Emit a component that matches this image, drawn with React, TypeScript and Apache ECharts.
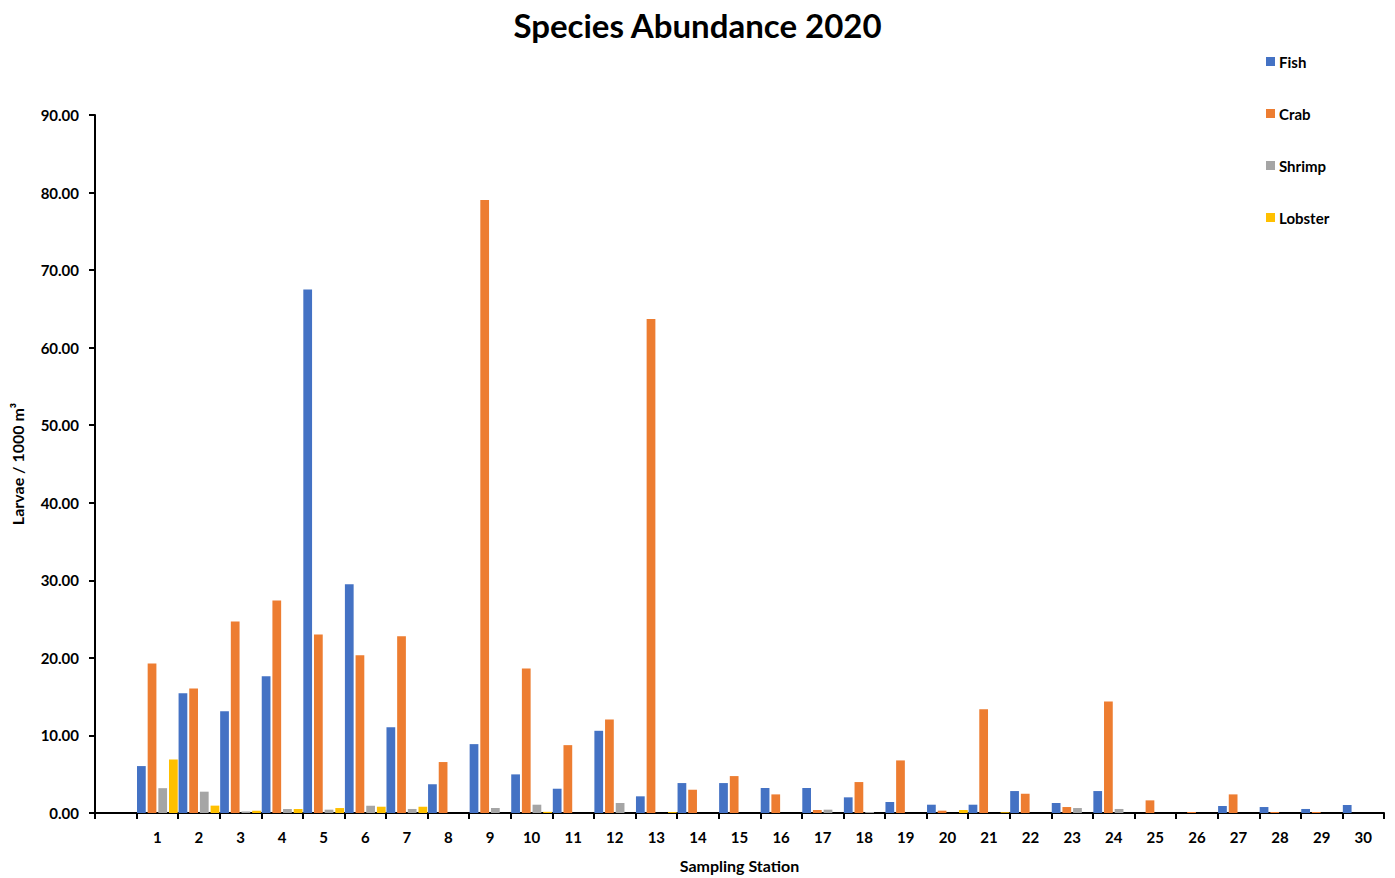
import React, { useEffect, useRef } from "react";
import * as echarts from "echarts";

const stations = ["", "1", "2", "3", "4", "5", "6", "7", "8", "9", "10", "11", "12", "13", "14", "15", "16", "17", "18", "19", "20", "21", "22", "23", "24", "25", "26", "27", "28", "29", "30"];

const fish = [null, 6.05, 15.45, 13.13, 17.64, 67.5, 29.5, 11.07, 3.72, 8.88, 4.98, 3.13, 10.6, 2.15, 3.86, 3.86, 3.22, 3.22, 2.02, 1.42, 1.07, 1.07, 2.83, 1.29, 2.83, 0, 0, 0.9, 0.77, 0.52, 1.03];
const crab = [null, 19.27, 16.05, 24.7, 27.4, 23.0, 20.34, 22.8, 6.57, 79.05, 18.63, 8.75, 12.06, 63.7, 3.0, 4.76, 2.4, 0.39, 3.99, 6.78, 0.3, 13.39, 2.49, 0.77, 14.38, 1.63, 0.13, 2.4, 0.13, 0.13, 0];
const shrimp = [null, 3.2, 2.75, 0.2, 0.52, 0.43, 0.94, 0.52, 0, 0.64, 1.07, 0, 1.29, 0, 0, 0, 0, 0.43, 0.13, 0, 0, 0, 0, 0.64, 0.52, 0, 0, 0, 0, 0, 0];
const lobster = [null, 6.9, 0.95, 0.3, 0.52, 0.64, 0.81, 0.81, 0, 0, 0.15, 0, 0, 0.12, 0, 0, 0, 0, 0, 0, 0.39, 0.1, 0, 0, 0, 0, 0, 0, 0, 0, 0];

const seriesNames = ["Fish", "Crab", "Shrimp", "Lobster"];
const seriesData = [fish, crab, shrimp, lobster];
const colors = ["#4472C4", "#ED7D31", "#A5A5A5", "#FFC000"];

const FONT = "Lato, 'Open Sans', sans-serif";

export default function App() {
  const ref = useRef<HTMLDivElement>(null);
  useEffect(() => {
    if (!ref.current) return;
    const chart = echarts.init(ref.current, undefined, { renderer: "svg" });
    chart.setOption({
      animation: false,
      backgroundColor: "#ffffff",
      title: {
        text: "Species Abundance 2020",
        left: "center",
        top: 3,
        textStyle: { fontFamily: FONT, fontWeight: "bold", fontSize: 33, color: "#000" },
      },
      legend: {
        orient: "vertical",
        left: 1261,
        top: 49,
        itemWidth: 9,
        itemHeight: 9,
        itemGap: 37,
        icon: "rect",
        textStyle: { fontFamily: FONT, fontWeight: "bold", fontSize: 15, color: "#000", padding: [0, 0, 0, -1] },
        data: seriesNames,
      },
      grid: { left: 95, right: 11, top: 115, bottom: 64, containLabel: false },
      xAxis: {
        type: "category",
        data: stations,
        name: "Sampling Station",
        nameLocation: "middle",
        nameGap: 44,
        nameTextStyle: { fontFamily: FONT, fontWeight: "bold", fontSize: 16, color: "#000" },
        axisLine: { lineStyle: { color: "#000", width: 2 } },
        axisTick: { show: true, length: 6, lineStyle: { color: "#000", width: 2 } },
        axisLabel: { fontFamily: FONT, fontWeight: "bold", fontSize: 15, color: "#000", margin: 16, interval: 0 },
      },
      yAxis: {
        type: "value",
        min: 0,
        max: 90,
        interval: 10,
        name: "Larvae / 1000 m³",
        nameLocation: "middle",
        nameGap: 70,
        nameTextStyle: { fontFamily: FONT, fontWeight: "bold", fontSize: 16, color: "#000" },
        axisLine: { show: true, lineStyle: { color: "#000", width: 2 } },
        axisTick: { show: true, length: 6, lineStyle: { color: "#000", width: 2 } },
        splitLine: { show: false },
        axisLabel: {
          fontFamily: FONT,
          fontWeight: "bold",
          fontSize: 15,
          color: "#000",
          margin: 16,
          formatter: (v: number) => v.toFixed(2),
        },
      },
      series: seriesNames.map((name, i) => ({
        name,
        type: "bar",
        data: seriesData[i],
        barCategoryGap: "2%",
        barGap: "22%",
        itemStyle: { color: colors[i] },
      })),
    });
    return () => chart.dispose();
  }, []);
  return <div ref={ref} style={{ position: "fixed", left: 0, top: 0, width: 1395, height: 878 }} />;
}
